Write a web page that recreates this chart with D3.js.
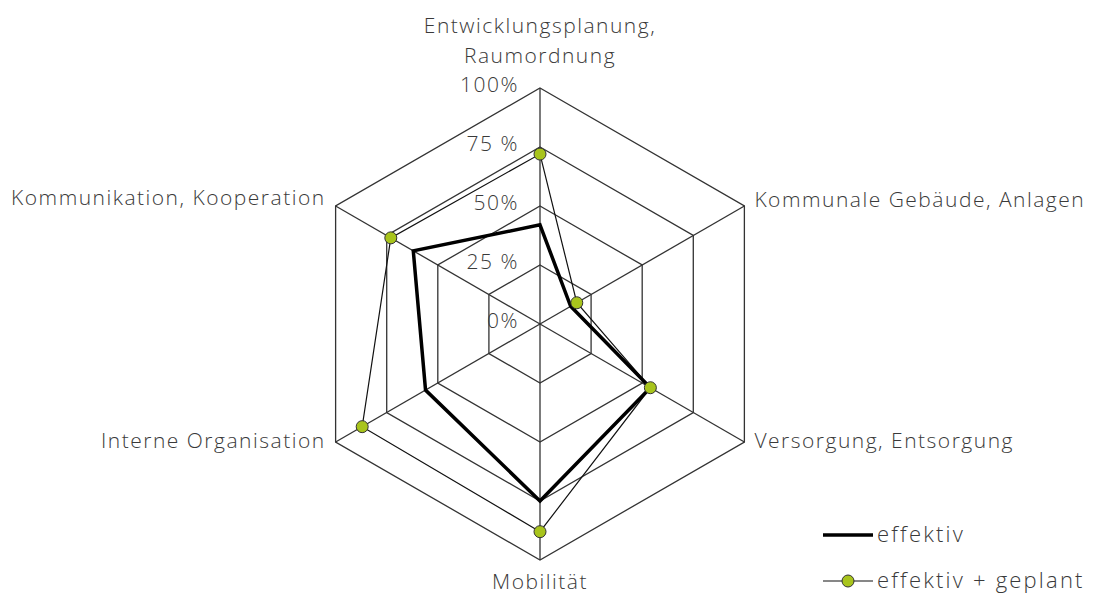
<!DOCTYPE html>
<meta charset="utf-8">
<script src="https://d3js.org/d3.v7.min.js"></script>
<style>
  body { margin: 0; background: #fff; }
  text { font-family: "Open Sans", "Liberation Sans", sans-serif; font-weight: 300; fill: #3a3a3a; font-size: 21px; letter-spacing: 1.5px; }
  .legend text { font-size: 22px; letter-spacing: 2.2px; }
</style>
<div id="chart"></div>
<script>

// categories (clockwise from top)
const categories = [
  ["Entwicklungsplanung,", "Raumordnung"],
  ["Kommunale Gebäude, Anlagen"],
  ["Versorgung, Entsorgung"],
  ["Mobilität"],
  ["Interne Organisation"],
  ["Kommunikation, Kooperation"]
];
const effektiv = [42, 15, 54, 75, 56, 62];
const geplant = [72, 18, 54, 88, 87, 73];
const ticks = [0, 25, 50, 75, 100];
const tickLabels = ["0%", "25 %", "50%", "75 %", "100%"];
const legendLabels = ["effektiv", "effektiv + geplant"];

const width = 1096, height = 595;
const cx = 540, cy = 324, radius = 236;

const svg = d3.select("#chart")
  .append("svg")
  .attr("width", width)
  .attr("height", height);

const g = svg.append("g").attr("transform", `translate(${cx}, ${cy})`);

const r = d3.scaleLinear().domain([0, 100]).range([0, radius]);
const angle = i => i * 2 * Math.PI / categories.length;
const pt = (i, v) => [r(v) * Math.sin(angle(i)), -r(v) * Math.cos(angle(i))];

const line = d3.line().curve(d3.curveLinearClosed);

// grid rings
g.selectAll(".ring")
  .data(ticks.filter(t => t > 0))
  .join("path")
  .attr("d", t => line(categories.map((c, i) => pt(i, t))))
  .attr("fill", "none")
  .attr("stroke", "#333")
  .attr("stroke-width", 1.3);

// spokes
g.selectAll(".spoke")
  .data(categories)
  .join("line")
  .attr("x1", 0).attr("y1", 0)
  .attr("x2", (d, i) => pt(i, 100)[0])
  .attr("y2", (d, i) => pt(i, 100)[1])
  .attr("stroke", "#333")
  .attr("stroke-width", 1.3);

// tick labels
g.selectAll(".tick")
  .data(ticks)
  .join("text")
  .attr("x", -21)
  .attr("y", t => -r(t) + 4)
  .attr("text-anchor", "end")
  .text((t, i) => tickLabels[i]);

// geplant series (thin)
g.append("path")
  .attr("d", line(geplant.map((v, i) => pt(i, v))))
  .attr("fill", "none")
  .attr("stroke", "#111")
  .attr("stroke-width", 1.2);

// effektiv series (thick)
g.append("path")
  .attr("d", line(effektiv.map((v, i) => pt(i, v))))
  .attr("fill", "none")
  .attr("stroke", "#000")
  .attr("stroke-width", 3.5)
  .attr("stroke-linejoin", "miter");

// markers
g.selectAll(".dot")
  .data(geplant)
  .join("circle")
  .attr("cx", (v, i) => pt(i, v)[0])
  .attr("cy", (v, i) => pt(i, v)[1])
  .attr("r", 6)
  .attr("fill", "#a8c41c")
  .attr("stroke", "#333")
  .attr("stroke-width", 1);

// category labels
const labelPos = [
  {dx: 0, dy: -55, anchor: "middle"},
  {dx: 10, dy: 1, anchor: "start"},
  {dx: 10, dy: 6, anchor: "start"},
  {dx: 0, dy: 29, anchor: "middle"},
  {dx: -10, dy: 6, anchor: "end"},
  {dx: -10, dy: -1, anchor: "end"}
];
categories.forEach((c, i) => {
  const p = pt(i, 100);
  const t = g.append("text")
    .attr("x", p[0] + labelPos[i].dx)
    .attr("y", p[1] + labelPos[i].dy)
    .attr("text-anchor", labelPos[i].anchor);
  c.forEach((s, k) => {
    t.append("tspan")
      .attr("x", p[0] + labelPos[i].dx)
      .attr("dy", k === 0 ? 0 : 30)
      .text(s);
  });
});

// legend
const lg = svg.append("g").attr("class", "legend").attr("transform", "translate(823, 535)");
lg.append("line").attr("x1", 0).attr("x2", 50).attr("y1", 0).attr("y2", 0)
  .attr("stroke", "#000").attr("stroke-width", 3.5);
lg.append("text").attr("x", 54).attr("y", 7).text(legendLabels[0]);
lg.append("line").attr("x1", 0).attr("x2", 50).attr("y1", 46).attr("y2", 46)
  .attr("stroke", "#111").attr("stroke-width", 1.2);
lg.append("circle").attr("cx", 25).attr("cy", 46).attr("r", 6)
  .attr("fill", "#a8c41c").attr("stroke", "#333").attr("stroke-width", 1);
lg.append("text").attr("x", 54).attr("y", 53).text(legendLabels[1]);

</script>
